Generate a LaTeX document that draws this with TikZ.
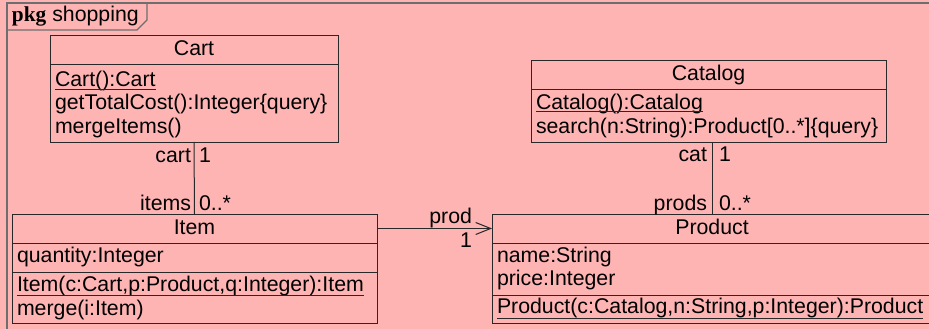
\documentclass[tikz,border=0pt]{standalone}
\usepackage{fontspec}
\setmainfont{Liberation Sans}
\newfontfamily\serifb{Liberation Serif}
\usetikzlibrary{arrows.meta,calc}
\definecolor{bg}{RGB}{255,180,180}
\definecolor{ln}{RGB}{40,40,40}
\definecolor{fr}{RGB}{110,110,110}
\begin{document}
\begin{tikzpicture}[x=1pt,y=-1pt,
  every node/.style={inner sep=0pt,outer sep=0pt,font=\fontsize{21.3}{23}\selectfont},
  box/.style={draw=ln,line width=1pt,anchor=north west,rectangle},
  sep/.style={draw=ln,line width=1pt},
  uline/.style={draw=ln,line width=1pt},
  lt/.style={anchor=base west},
  rt/.style={anchor=base east},
  ct/.style={anchor=base}]
\useasboundingbox (0,0) rectangle (929,329);
\fill[bg] (0,0) rectangle (929,329);
% frame
\draw[fr,line width=1.3pt] (7,3) rectangle (940,340);
\draw[fr,line width=1.3pt] (7,30) -- (137,30) -- (147,20) -- (147,3);
\node[lt] (title) at (12,22) {{\serifb\bfseries pkg} shopping};
% Cart
\node[box,minimum width=288pt,minimum height=106pt] (cart) at (50,36) {};
\draw[sep] (50,65) -- (338,65);
\node[ct] (cartn) at (194,56) {Cart};
\node[lt] (cartop1) at (55,87) {Cart():Cart};
\draw[uline] ($(cartop1.base west)+(0,2.5)$) -- ($(cartop1.base east)+(0,2.5)$);
\node[lt] (cartop2) at (55,110) {getTotalCost():Integer\{query\}};
\node[lt] (cartop3) at (55,133) {mergeItems()};
% Catalog
\node[box,minimum width=355pt,minimum height=81pt] (cat) at (531,61) {};
\draw[sep] (531,89) -- (886,89);
\node[ct] (catn) at (708.5,81) {Catalog};
\node[lt] (catop1) at (536,109) {Catalog():Catalog};
\draw[uline] ($(catop1.base west)+(0,2.5)$) -- ($(catop1.base east)+(0,2.5)$);
\node[lt] (catop2) at (536,133) {search(n:String):Product[0..*]\{query\}};
% Item
\node[box,minimum width=365pt,minimum height=109pt] (item) at (12,214) {};
\draw[sep] (12,243) -- (377,243);
\draw[sep] (12,272) -- (377,272);
\node[ct] (itemn) at (194.5,234) {Item};
\node[lt] (itema1) at (17,262) {quantity:Integer};
\node[lt] (itemop1) at (17,291) {Item(c:Cart,p:Product,q:Integer):Item};
\draw[uline] ($(itemop1.base west)+(0,4.5)$) -- ($(itemop1.base east)+(0,4.5)$);
\node[lt] (itemop2) at (17,315) {merge(i:Item)};
% Product
\node[box,minimum width=440pt,minimum height=109pt] (prod) at (492,214) {};
\draw[sep] (492,243) -- (932,243);
\draw[sep] (492,295) -- (932,295);
\node[ct] (prodn) at (712,234) {Product};
\node[lt] (proda1) at (497,262) {name:String};
\node[lt] (proda2) at (497,285) {price:Integer};
\node[lt] (prodop1) at (497,313) {Product(c:Catalog,n:String,p:Integer):Product};
\draw[uline] ($(prodop1.base west)+(0,5)$) -- ($(prodop1.base east)+(0,5)$);
% associations
\draw[sep] (cart.south) -- (item.north);
\node[rt] (lcart) at (191,162) {cart};
\node[lt] (lcart1) at (199,162) {1};
\node[rt] (litems) at (191,210) {items};
\node[lt] (litems1) at (199,210) {0..*};
\draw[sep] (prod.north |- cat.south) -- (prod.north);
\node[rt] (lcat) at (707,161) {cat};
\node[lt] (lcat1) at (719,161) {1};
\node[rt] (lprods) at (707,210) {prods};
\node[lt] (lprods1) at (719,210) {0..*};
\draw[sep,-{Straight Barb[length=15pt,width=12pt]}] ($(item.north east)+(0,14.5)$) -- ($(prod.north west)+(0,14.5)$);
\node[rt] (lprod) at (472,223) {prod};
\node[rt] (lprod1) at (472,247) {1};
\end{tikzpicture}
\end{document}
